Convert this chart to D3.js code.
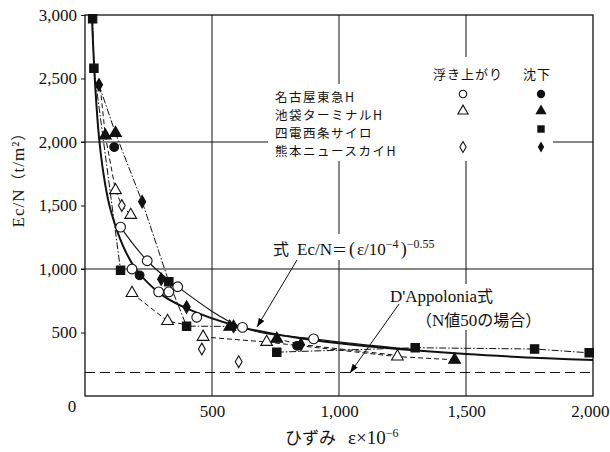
<!DOCTYPE html>
<html>
<head>
<meta charset="utf-8">
<script src="https://cdn.jsdelivr.net/npm/d3@7"></script>
<style>
  body { margin: 0; background: #fff; }
  svg { display: block; }
</style>
</head>
<body>
<div class="chart"></div>
<script>
// strain (x 10^-6) vs Ec/N (t/m2)
var xTicks = [500, 1000, 1500, 2000];
var yTicks = [500, 1000, 1500, 2000, 2500, 3000];
var gridX = [500, 1000, 1500];
var gridY = [1000, 2000];

// fitted curve  Ec/N = (e/10^-4)^-0.55
var fitCurve = [[27, 3000], [40, 2450], [57, 2000], [80, 1660], [100, 1470], [150, 1180], [200, 1000],
  [300, 800], [400, 690], [600, 550], [800, 470], [1000, 415], [1500, 330], [2000, 283]];

// D'Appolonia (N = 50)
var dappolonia = [[0, 185], [2000, 185]];

// markers
var openCircles = [[140, 1330], [245, 1065], [185, 1000], [290, 820], [330, 820], [365, 860], [440, 620], [620, 540], [900, 450]];
var filledCircles = [[115, 1960], [215, 950], [835, 395]];
var openTriangles = [[120, 1620], [180, 1425], [185, 810], [325, 590], [465, 465], [715, 425], [1230, 310]];
var filledTriangles = [[80, 2050], [120, 2070], [570, 545], [755, 450], [1455, 285]];
var filledSquares = [[30, 2970], [35, 2580], [140, 990], [330, 900], [400, 550], [755, 345], [1300, 380], [1770, 370], [1985, 340]];
var openDiamonds = [[145, 1500], [460, 370], [605, 270]];
var filledDiamonds = [[55, 2450], [225, 1530], [300, 920], [400, 700], [585, 548], [850, 405]];

// connecting lines
var openCircleLine = [[140, 1330], [245, 1065], [365, 860], [620, 540], [900, 450], [1300, 365]];
var squareLine1 = [[30, 2970], [35, 2580], [140, 990]];
var squareLine2 = [[330, 900], [400, 550], [570, 548]];
var squareLine3 = [[755, 345], [1300, 380], [1770, 370], [1985, 340]];
var diamondLine = [[55, 2450], [120, 2070], [225, 1530], [330, 900]];
var triangleLine1 = [[60, 2430], [80, 2050], [120, 1620], [145, 1500], [180, 1425]];
var triangleLine2 = [[185, 810], [325, 590], [400, 560]];
var triangleLine3 = [[465, 465], [715, 425], [1230, 310], [1455, 285]];
var triangleLine4 = [[755, 450], [850, 405], [1230, 320]];

var legendNames = ["名古屋東急H", "池袋ターミナルH", "四電西条サイロ", "熊本ニュースカイH"];

var serif = '"Liberation Serif", "DejaVu Serif", serif';
var jp = '"Noto Sans CJK JP", sans-serif';

var svgWidth = 610, svgHeight = 452;

var svg = d3.select(".chart").append("svg")
  .attr("width", svgWidth)
  .attr("height", svgHeight);

var x = d3.scaleLinear().domain([0, 2000]).range([85, 593]);
var y = d3.scaleLinear().domain([0, 3000]).range([396, 15]);

// arrow head
svg.append("defs").append("marker")
  .attr("id", "arrow")
  .attr("viewBox", "0 0 10 10")
  .attr("refX", 10).attr("refY", 5)
  .attr("markerWidth", 9).attr("markerHeight", 9)
  .attr("orient", "auto")
  .append("path")
  .attr("d", "M0,1.5 L10,5 L0,8.5 Z")
  .attr("fill", "#000");

// grid
svg.selectAll(".gx").data(gridX).enter().append("line")
  .attr("x1", d => x(d)).attr("x2", d => x(d))
  .attr("y1", y(3000)).attr("y2", y(0))
  .attr("stroke", "#111").attr("stroke-width", 1);

svg.selectAll(".gy").data(gridY).enter().append("line")
  .attr("x1", x(0) - 4).attr("x2", x(2000))
  .attr("y1", d => y(d)).attr("y2", d => y(d))
  .attr("stroke", "#111").attr("stroke-width", 1);

// frame
svg.append("rect")
  .attr("x", x(0)).attr("y", y(3000))
  .attr("width", x(2000) - x(0)).attr("height", y(0) - y(3000))
  .attr("fill", "none").attr("stroke", "#111").attr("stroke-width", 1.3);

// axes
var yAxis = d3.axisLeft(y).tickValues(yTicks).tickSize(4).tickPadding(4).tickFormat(d3.format(","));
var gy = svg.append("g").attr("transform", `translate(${x(0)},0)`).call(yAxis);
gy.select(".domain").remove();
gy.selectAll("text").attr("font-family", serif).attr("font-size", 17).attr("fill", "#111");
gy.selectAll("line").attr("stroke", "#111");

var xAxis = d3.axisBottom(x).tickValues(xTicks).tickSize(0).tickPadding(9).tickFormat(d3.format(","));
var gx = svg.append("g").attr("transform", `translate(0,${y(0)})`).call(xAxis);
gx.select(".domain").remove();
gx.selectAll("text").attr("font-family", serif).attr("font-size", 17).attr("fill", "#111");
// last label sits at the page edge
gx.selectAll("text").filter(d => d === 2000).attr("text-anchor", "end").attr("x", 16);

svg.append("text")
  .attr("x", 72).attr("y", 412)
  .attr("text-anchor", "middle")
  .attr("font-family", serif).attr("font-size", 17).attr("fill", "#111")
  .text("0");

// axis titles
var yt = svg.append("text")
  .attr("transform", "translate(24,176) rotate(-90)")
  .attr("text-anchor", "middle")
  .attr("font-size", 17).attr("fill", "#111")
  .attr("letter-spacing", 1);
yt.append("tspan").attr("font-family", serif).text("Ec/N");
yt.append("tspan").attr("font-family", jp).attr("font-size", 15).text("（");
yt.append("tspan").attr("font-family", serif).text("t/m²");
yt.append("tspan").attr("font-family", jp).attr("font-size", 15).text("）");

var xt = svg.append("text")
  .attr("x", 285).attr("y", 444)
  .attr("font-size", 17).attr("fill", "#111");
xt.append("tspan").attr("font-family", jp).text("ひずみ");
xt.append("tspan").attr("font-family", serif).attr("font-size", 19).attr("dx", 12).text("ε×10");
xt.append("tspan").attr("font-family", serif).attr("font-size", 12).attr("dy", -7).text("−6");

// lines
var line = d3.line().x(d => x(d[0])).y(d => y(d[1]));
var smooth = d3.line().x(d => x(d[0])).y(d => y(d[1])).curve(d3.curveCatmullRom);

function drawLine(data, width, dash, gen) {
  svg.append("path")
    .datum(data)
    .attr("d", gen || line)
    .attr("fill", "none")
    .attr("stroke", "#111")
    .attr("stroke-width", width)
    .attr("stroke-dasharray", dash);
}

drawLine(dappolonia, 1, "10,5");
drawLine(fitCurve, 2, null, smooth);
drawLine(openCircleLine, 1.1, null, smooth);
drawLine(squareLine1, 1, "7,2,1.5,2");
drawLine(squareLine2, 1, "7,2,1.5,2");
drawLine(squareLine3, 1, "7,2,1.5,2");
drawLine(diamondLine, 1, "7,2,1.5,2");
drawLine(triangleLine1, 1, "5,3");
drawLine(triangleLine2, 1, "5,3");
drawLine(triangleLine3, 1, "5,3");
drawLine(triangleLine4, 1, "5,3");

// markers
function drawMarks(data, type, size, filled) {
  svg.append("g").selectAll("path")
    .data(data)
    .enter().append("path")
    .attr("transform", d => `translate(${x(d[0])},${y(d[1])})`)
    .attr("d", d3.symbol().type(type).size(size))
    .attr("fill", filled ? "#111" : "#fff")
    .attr("stroke", "#111")
    .attr("stroke-width", 1.1);
}

drawMarks(filledSquares, d3.symbolSquare, 70, true);
drawMarks(filledDiamonds, d3.symbolDiamond, 45, true);
drawMarks(filledTriangles, d3.symbolTriangle, 60, true);
drawMarks(filledCircles, d3.symbolCircle, 60, true);
drawMarks(openTriangles, d3.symbolTriangle, 60, false);
drawMarks(openDiamonds, d3.symbolDiamond, 40, false);
drawMarks(openCircles, d3.symbolCircle, 75, false);

// legend (white box hides the grid behind it)
svg.append("rect").attr("x", 268).attr("y", 84).attr("width", 285).attr("height", 77).attr("fill", "#fff");
svg.append("rect").attr("x", 426).attr("y", 57).attr("width", 134).attr("height", 28).attr("fill", "#fff");

svg.append("text").attr("x", 433).attr("y", 79)
  .attr("font-family", jp).attr("font-size", 13).attr("letter-spacing", 1).attr("fill", "#111").text("浮き上がり");
svg.append("text").attr("x", 523).attr("y", 79)
  .attr("font-family", jp).attr("font-size", 13).attr("letter-spacing", 1).attr("fill", "#111").text("沈下");

svg.append("g").selectAll("text")
  .data(legendNames)
  .enter().append("text")
  .attr("x", 275)
  .attr("y", (d, i) => 102 + i * 18)
  .attr("font-family", jp).attr("font-size", 12.5).attr("letter-spacing", 1.5).attr("fill", "#111")
  .text(d => d);

var legendOpen = [d3.symbolCircle, d3.symbolTriangle, null, d3.symbolDiamond];
var legendFilled = [d3.symbolCircle, d3.symbolTriangle, d3.symbolSquare, d3.symbolDiamond];
var legendY = [94, 111, 129, 147];

legendOpen.forEach(function(t, i) {
  if (!t) return;
  svg.append("path")
    .attr("transform", `translate(463,${legendY[i]})`)
    .attr("d", d3.symbol().type(t).size(t === d3.symbolDiamond ? 35 : 45))
    .attr("fill", "#fff").attr("stroke", "#111").attr("stroke-width", 1.1);
});
legendFilled.forEach(function(t, i) {
  svg.append("path")
    .attr("transform", `translate(541,${legendY[i]})`)
    .attr("d", d3.symbol().type(t).size(t === d3.symbolDiamond ? 35 : 55))
    .attr("fill", "#111");
});

// formula label with arrow
svg.append("rect").attr("x", 270).attr("y", 234).attr("width", 194).attr("height", 26).attr("fill", "#fff");
var ft = svg.append("text").attr("x", 273).attr("y", 255).attr("font-size", 17).attr("fill", "#111");
ft.append("tspan").attr("font-family", jp).attr("font-size", 16).text("式");
ft.append("tspan").attr("font-family", serif).attr("dx", 8).text("Ec/N");
ft.append("tspan").attr("font-family", jp).attr("font-size", 15).text("＝");
ft.append("tspan").attr("font-family", serif).attr("font-size", 18).attr("dx", 2).text("(");
ft.append("tspan").attr("font-family", serif).attr("dx", 2).text("ε/10");
ft.append("tspan").attr("font-family", serif).attr("font-size", 12).attr("dy", -7).text("−4");
ft.append("tspan").attr("font-family", serif).attr("font-size", 18).attr("dx", 2).attr("dy", 7).text(")");
ft.append("tspan").attr("font-family", serif).attr("font-size", 12).attr("dy", -7).text("−0.55");

svg.append("line")
  .attr("x1", 297).attr("y1", 260).attr("x2", 257).attr("y2", 327)
  .attr("stroke", "#111").attr("stroke-width", 1)
  .attr("marker-end", "url(#arrow)");

// D'Appolonia label with arrow
svg.append("rect").attr("x", 386).attr("y", 284).attr("width", 158).attr("height", 46).attr("fill", "#fff");
var dt = svg.append("text").attr("x", 390).attr("y", 302).attr("font-size", 17).attr("fill", "#111");
dt.append("tspan").attr("font-family", serif).text("D'Appolonia");
dt.append("tspan").attr("font-family", jp).attr("font-size", 16).text("式");
var dt2 = svg.append("text").attr("x", 416).attr("y", 326).attr("font-size", 16).attr("fill", "#111");
dt2.append("tspan").attr("font-family", jp).text("（");
dt2.append("tspan").attr("font-family", serif).attr("font-size", 17).text("N");
dt2.append("tspan").attr("font-family", jp).text("値");
dt2.append("tspan").attr("font-family", serif).attr("font-size", 17).text("50");
dt2.append("tspan").attr("font-family", jp).text("の場合）");

svg.append("line")
  .attr("x1", 399).attr("y1", 304).attr("x2", 350).attr("y2", 373)
  .attr("stroke", "#111").attr("stroke-width", 1)
  .attr("marker-end", "url(#arrow)");
</script>
</body>
</html>
